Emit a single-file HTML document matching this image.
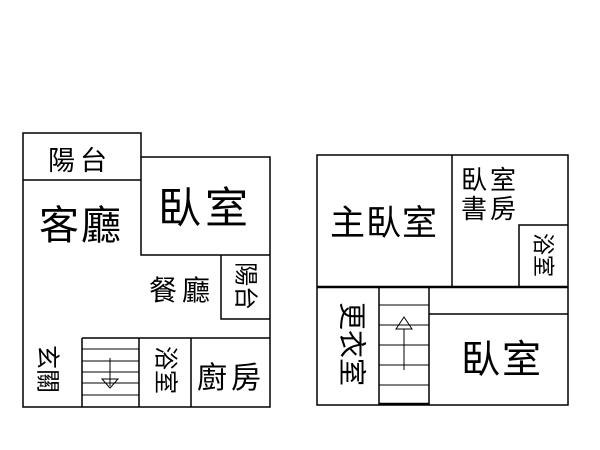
<!DOCTYPE html>
<html><head><meta charset="utf-8"><style>html,body{margin:0;padding:0;background:#fff}svg{display:block}</style></head><body>
<svg width="600" height="450" xmlns="http://www.w3.org/2000/svg" font-family="'Liberation Sans','Noto Sans CJK TC',sans-serif" fill="#000">
<g stroke="#000" stroke-width="1.5" fill="none">
<path d="M23,133 H141 V157 H270 V407 H23 Z"/>
<path d="M23,180 H141"/>
<path d="M141,157 V255 H270"/>
<path d="M221,255 V319 H270"/>
<path d="M82,338 H270"/>
<path d="M82,338 V407 M139,338 V407 M191,338 V407"/>
<path d="M82,349 H139 M82,361 H139 M82,372 H139 M82,383 H139 M82,395 H139" stroke-width="1"/>
<path d="M110,358 V386" stroke-width="1"/>
<path d="M102,379 L118,379 L110,388 Z" stroke-width="1"/>
<rect x="317" y="155" width="251" height="250"/>
<path d="M452,155 V287"/>
<path d="M519,287 V225 H568"/>
<path d="M317,287 H568" stroke-width="2.5"/>
<path d="M379,287 V405 M429,287 V405"/>
<path d="M429,314 H568"/>
<path d="M379,305 H429 M379,325 H429 M379,345 H429 M379,365 H429 M379,385 H429" stroke-width="1"/>
<path d="M379,404 H429" stroke-width="2.5"/>
<path d="M404,370 V329" stroke-width="1"/>
<path d="M396,329 L412,329 L404,317 Z" stroke-width="1"/>
</g>
<g>
<text x="48" y="170" font-size="27" letter-spacing="5">陽台</text>
<text x="39" y="239" font-size="40" letter-spacing="2">客廳</text>
<text x="158" y="223" font-size="43" letter-spacing="4">臥室</text>
<text x="149" y="300" font-size="28" letter-spacing="5">餐廳</text>
<text x="197" y="388" font-size="30" letter-spacing="4">廚房</text>
<text transform="translate(245,262) rotate(90)" font-size="24" dominant-baseline="central">陽台</text>
<text transform="translate(47,345) rotate(90)" font-size="24" dominant-baseline="central">玄關</text>
<text transform="translate(165,346) rotate(90)" font-size="24" dominant-baseline="central">浴室</text>
<text x="330" y="235" font-size="35" letter-spacing="1">主臥室</text>
<text x="461" y="189" font-size="26" letter-spacing="3">臥室</text>
<text x="461" y="218" font-size="26" letter-spacing="3">書房</text>
<text transform="translate(543,233) rotate(90)" font-size="22" dominant-baseline="central">浴室</text>
<text transform="translate(352,302) rotate(90)" font-size="28" dominant-baseline="central">更衣室</text>
<text x="461" y="373" font-size="39" letter-spacing="2">臥室</text>
</g>
</svg>
</body></html>
